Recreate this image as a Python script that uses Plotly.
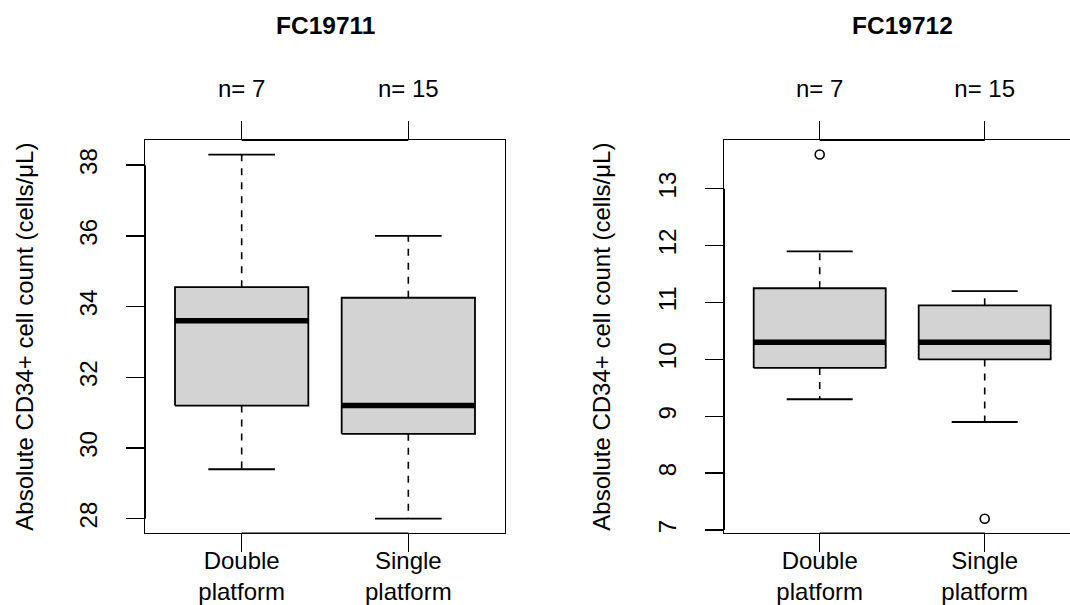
import plotly.graph_objects as go

# ---------------- data ----------------
CATEGORIES = ["Double<br>platform", "Single<br>platform"]
POSITIONS = [1, 2]
N_COUNTS = [7, 15]
PANEL_TITLES = ["FC19711", "FC19712"]

# panel 1 (FC19711) five-number summaries
P1_LOWER = [29.4, 28.0]
P1_Q1 = [31.2, 30.4]
P1_MEDIAN = [33.6, 31.2]
P1_Q3 = [34.55, 34.25]
P1_UPPER = [38.3, 36.0]
P1_OUTLIERS = [[], []]

# panel 2 (FC19712) five-number summaries
P2_LOWER = [9.3, 8.9]
P2_Q1 = [9.85, 10.0]
P2_MEDIAN = [10.3, 10.3]
P2_Q3 = [11.25, 10.95]
P2_UPPER = [11.9, 11.2]
P2_OUTLIERS = [[13.6], [7.2]]

P1_TICKS = [28, 30, 32, 34, 36, 38]
P2_TICKS = [7, 8, 9, 10, 11, 12, 13]

Y_LABEL = "Absolute CD34+ cell count (cells/μL)"

FONT = "Liberation Sans, Arial, Helvetica, sans-serif"
BOXFILL = "#D3D3D3"
BOXW = 0.8
FS = 24

fig = go.Figure()


def add_panel(xa, ya, lower, q1, med, q3, upper, outl):
    for i, p in enumerate(POSITIONS):
        h = BOXW / 2
        # whiskers (dashed)
        fig.add_trace(go.Scatter(x=[p, p, None, p, p], y=[q3[i], upper[i], None, q1[i], lower[i]],
                                 mode="lines", line=dict(color="black", width=1.6, dash="7px,7px"),
                                 xaxis=xa, yaxis=ya, hoverinfo="skip", showlegend=False))
        # staples
        fig.add_trace(go.Scatter(x=[p - h / 2, p + h / 2, None, p - h / 2, p + h / 2],
                                 y=[upper[i], upper[i], None, lower[i], lower[i]],
                                 mode="lines", line=dict(color="black", width=1.8),
                                 xaxis=xa, yaxis=ya, hoverinfo="skip", showlegend=False))
        # box
        fig.add_trace(go.Scatter(x=[p - h, p + h, p + h, p - h, p - h],
                                 y=[q1[i], q1[i], q3[i], q3[i], q1[i]],
                                 mode="lines", fill="toself", fillcolor=BOXFILL,
                                 line=dict(color="black", width=1.8),
                                 xaxis=xa, yaxis=ya, hoverinfo="skip", showlegend=False))
        # median
        fig.add_trace(go.Scatter(x=[p - h, p + h], y=[med[i], med[i]],
                                 mode="lines", line=dict(color="black", width=5.5),
                                 xaxis=xa, yaxis=ya, hoverinfo="skip", showlegend=False))
        # outliers
        if outl[i]:
            fig.add_trace(go.Scatter(x=[p] * len(outl[i]), y=outl[i], mode="markers",
                                     marker=dict(symbol="circle-open", size=9, color="black",
                                                 line=dict(width=1.6)),
                                     xaxis=xa, yaxis=ya, hoverinfo="skip", showlegend=False,
                                     cliponaxis=False))


add_panel("x", "y", P1_LOWER, P1_Q1, P1_MEDIAN, P1_Q3, P1_UPPER, P1_OUTLIERS)
add_panel("x2", "y2", P2_LOWER, P2_Q1, P2_MEDIAN, P2_Q3, P2_UPPER, P2_OUTLIERS)

# invisible traces to activate top "n=" axes
fig.add_trace(go.Scatter(x=POSITIONS, y=P1_MEDIAN, xaxis="x3", yaxis="y", mode="markers",
                         marker=dict(opacity=0), hoverinfo="skip", showlegend=False))
fig.add_trace(go.Scatter(x=POSITIONS, y=P2_MEDIAN, xaxis="x4", yaxis="y2", mode="markers",
                         marker=dict(opacity=0), hoverinfo="skip", showlegend=False))


def yrange(lower, upper, outl):
    vals = list(lower) + list(upper) + [v for s in outl for v in s]
    lo, hi = min(vals), max(vals)
    pad = 0.04 * (hi - lo)
    return [lo - pad, hi + pad]


R1 = yrange(P1_LOWER, P1_UPPER, P1_OUTLIERS)
R2 = yrange(P2_LOWER, P2_UPPER, P2_OUTLIERS)

W, H = 1070, 605
HE = 593  # effective rendered height used for vertical placement
D1X = [145 / W, 505 / W]
D2X = [724 / W, 1.0]
DY = [1 - 536 / HE, 1 - 140.7 / HE]
XR1 = [0.42, 2.58]
XR2 = [0.42, 0.42 + (W - 724) / 165]

tickfont = dict(family=FONT, size=FS, color="black")

common_x = dict(tickvals=POSITIONS, ticktext=CATEGORIES, ticks="outside", ticklen=18,
                tickwidth=1.5, tickcolor="black", showline=True, mirror=True,
                linecolor="black", linewidth=1.0, showgrid=False, zeroline=False,
                tickfont=tickfont, ticklabelstandoff=-12, fixedrange=True)
top_x = dict(tickvals=POSITIONS, ticktext=[f"n= {n}" for n in N_COUNTS], ticks="outside",
             ticklen=18, tickwidth=1.5, tickcolor="black", showline=False, showgrid=False,
             zeroline=False, side="top", tickfont=tickfont, ticklabelstandoff=14)
common_y = dict(ticks="outside", ticklen=18, tickwidth=1.5, tickcolor="black", showline=True,
                linecolor="black", linewidth=1.0, showgrid=False, zeroline=False,
                tickangle=-90, tickfont=tickfont, ticklabelstandoff=19)

fig.update_layout(
    width=W, height=H, autosize=False,
    margin=dict(l=0, r=0, t=0, b=0),
    paper_bgcolor="white", plot_bgcolor="white",
    font=dict(family=FONT, color="black"),
    xaxis=dict(domain=D1X, range=XR1, anchor="y", **common_x),
    yaxis=dict(domain=DY, range=R1, anchor="x", tickvals=P1_TICKS, mirror=True, **common_y),
    xaxis2=dict(domain=D2X, range=XR2, anchor="y2", **common_x),
    yaxis2=dict(domain=DY, range=R2, anchor="x2", tickvals=P2_TICKS, mirror=False, **common_y),
    xaxis3=dict(overlaying="x", range=XR1, anchor="y", **top_x),
    xaxis4=dict(overlaying="x2", range=XR2, anchor="y2", **top_x),
    showlegend=False,
)

# R-style axis line segments (slightly heavier over the frame)
for xr, yr, ticks in (("x", "y", P1_TICKS), ("x2", "y2", P2_TICKS)):
    fig.add_shape(type="line", xref=xr, yref=f"{yr} domain", x0=POSITIONS[0], x1=POSITIONS[-1],
                  y0=1, y1=1, line=dict(color="black", width=2.0))
    fig.add_shape(type="line", xref=xr, yref=f"{yr} domain", x0=POSITIONS[0], x1=POSITIONS[-1],
                  y0=0, y1=0, line=dict(color="black", width=1.6))
    fig.add_shape(type="line", xref=f"{xr} domain", yref=yr, x0=0, x1=0, y0=ticks[0], y1=ticks[-1],
                  line=dict(color="black", width=2.0))

# panel titles and y-axis labels
for xr, t in (("x", PANEL_TITLES[0]), ("x2", PANEL_TITLES[1])):
    fig.add_annotation(text=f"<b>{t}</b>", xref=xr, yref="paper", x=sum(XR1) / 2,
                       y=1 - 25.5 / HE, showarrow=False, xanchor="center", yanchor="middle",
                       font=dict(family=FONT, size=24.5, color="black"))
for xp in (25 / W, 602 / W):
    fig.add_annotation(text=Y_LABEL, xref="paper", yref="paper", x=xp, y=(DY[0] + DY[1]) / 2,
                       textangle=-90, showarrow=False, xanchor="center", yanchor="middle",
                       font=dict(family=FONT, size=FS, color="black"))

POST = ("document.documentElement.style.margin='0';document.body.style.margin='0';"
        "document.body.style.padding='0';document.body.style.overflow='hidden';"
        "document.documentElement.style.overflow='hidden';")
fig.write_html("out.html", post_script=POST,
               config={"responsive": False, "displayModeBar": False, "staticPlot": True})
